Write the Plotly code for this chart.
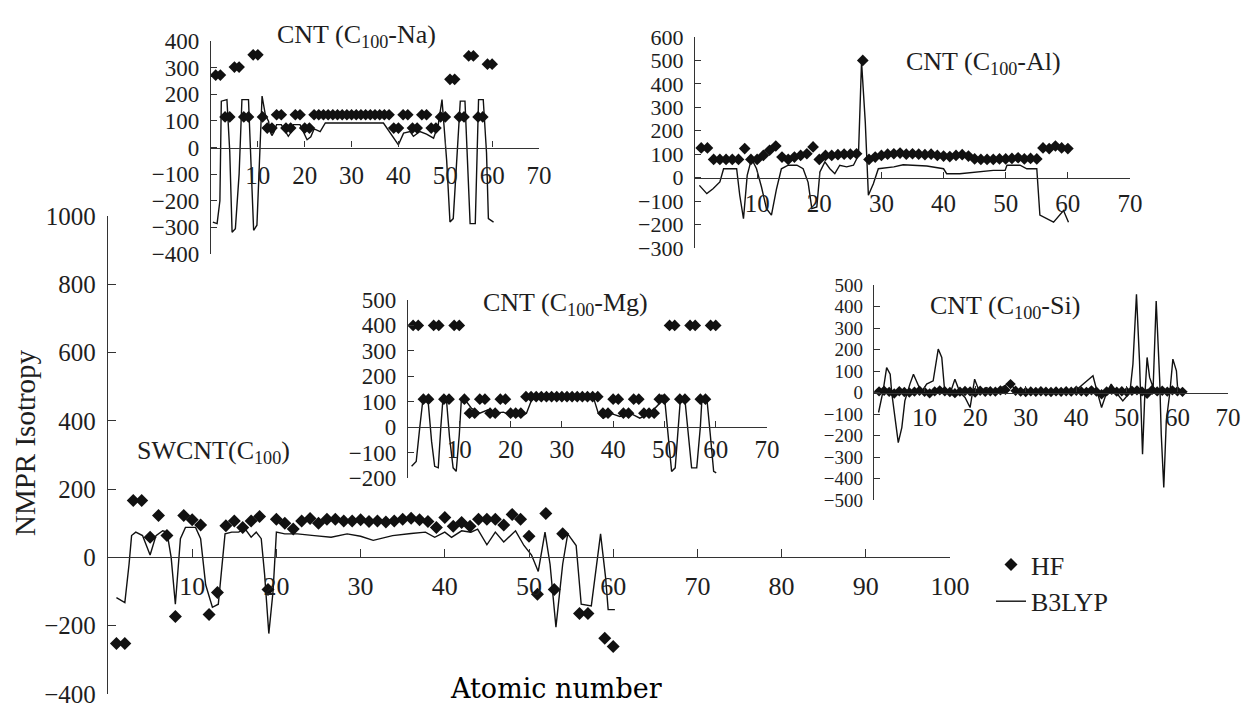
import plotly.graph_objects as go

W, H = 1247, 707
FONT = "Liberation Serif"
INK = "#1e1e1e"

# ---------------- data ----------------
# Main panel: SWCNT(C100)
main_hf_atoms = [1, 2, 3, 4, 5, 6, 7, 8, 9, 10, 11, 12, 13, 14, 15, 16, 17, 18, 19, 20,
                 21, 22, 23, 24, 25, 26, 27, 28, 29, 30, 31, 32, 33, 34, 35, 36, 37, 38, 39, 40,
                 41, 42, 43, 44, 45, 46, 47, 48, 49, 50, 51, 52, 53, 54, 56, 57, 59, 60]
main_hf = [-252, -252, 167, 167, 59, 123, 64, -173, 123, 110, 95, -167, -103, 93, 107, 88, 107, 120, -94, 112,
           100, 83, 107, 114, 100, 112, 112, 107, 107, 110, 105, 107, 104, 107, 112, 115, 110, 105, 88, 117,
           91, 102, 91, 112, 112, 112, 95, 126, 112, 62, -108, 129, -94, 69, -164, -164, -237, -261]
main_b3_atoms = [1.0, 2.0, 2.5, 2.8, 3.3, 4.1, 5.0, 5.7, 6.5, 7.0, 7.5, 8.0, 8.6, 9.2, 10.4, 11.0, 11.6, 12.4,
                 13.1, 13.5, 13.9, 14.7, 15.5, 16.3, 17.0, 17.6, 18.2, 18.6, 19.1, 19.6, 20.0, 21.0, 22.5,
                 24.5, 26.5, 28.4, 30.0, 31.5, 33.8, 36.0, 37.7, 38.8, 40.0, 40.8, 42.0, 43.1, 43.9, 45.0,
                 46.0, 47.0, 48.4, 49.4, 50.3, 51.1, 51.9, 52.5, 53.2, 54.0, 54.6, 55.6, 56.2, 57.4, 58.0,
                 58.5, 59.1, 59.4, 60.2]
main_b3 = [-118, -132, -20, 64, 74, 64, 7, 64, 78, 74, 0, -137, 55, 88, 88, 55, -80, -146,
           -137, -30, 69, 74, 74, 83, 59, 74, 55, -50, -223, -100, 74, 69, 69,
           64, 59, 69, 62, 50, 64, 70, 74, 59, 74, 59, 78, 74, 83, 37,
           74, 45, 78, 35, 7, -41, 74, -20, -204, -20, 69, 35, -137, -142, -22,
           69, -60, -153, -153]

# CNT (C100-Na)
na_hf_atoms = list(range(1, 61))
na_hf = [272, 272, 115, 115, 302, 302, 115, 115, 348, 348, 115, 73, 73, 123, 123, 73, 73, 123, 123, 73,
         73, 123, 123, 123, 123, 123, 123, 123, 123, 123, 123, 123, 123, 123, 123, 123, 123, 123, 73, 73,
         123, 123, 73, 73, 123, 123, 73, 73, 115, 115, 256, 256, 115, 115, 344, 344, 115, 115, 313, 313]
na_b3_atoms = [0.4, 1.3, 1.9, 2.2, 3.4, 4.0, 4.5, 5.2, 6.0, 6.6, 8.0, 8.4, 9.1, 9.8, 10.5, 10.9, 11.6,
               12.3, 12.6, 13.0, 13.5, 14.0, 15.0, 15.8, 16.5, 17.2, 17.6, 19.0, 19.8, 20.5, 21.3, 22.0,
               23.3, 24.4, 36.8, 38.2, 39.0, 40.0, 41.1, 42.5, 43.2, 44.6, 46.0, 47.5, 48.5, 49.3, 50.3,
               51.0, 51.7, 52.5, 53.2, 54.2, 54.9, 55.3, 56.4, 57.1, 58.1, 58.8, 59.2, 60.3]
na_b3 = [-280, -286, -200, 174, 180, -15, -318, -305, -100, 180, 180, -20, -311, -292, -20, 193, 123,
         98, 60, 45, 60, 86, 86, 60, 42, 60, 86, 86, 55, 29, 40, 70,
         60, 92, 92, 54, 35, 10, 54, 60, 42, 60, 50, 35, 86, 180, -50,
         -280, -267, -20, 174, 174, -100, -286, -286, 180, 180, -20, -267, -280]

# CNT (C100-Al)
al_hf_atoms = list(range(1, 61))
al_hf = [127, 127, 78, 78, 78, 78, 78, 124, 78, 78, 95, 117, 135, 88, 78, 88, 95, 102, 131, 78,
         95, 95, 98, 100, 100, 102, 500, 78, 88, 95, 100, 102, 105, 100, 102, 100, 98, 100, 95, 92,
         90, 95, 98, 92, 80, 78, 78, 78, 80, 80, 82, 85, 80, 82, 80, 127, 124, 135, 127, 124]
al_b3_atoms = [0.7, 1.9, 2.9, 4.0, 4.6, 6.7, 7.2, 7.8, 8.4, 9.1, 9.9, 10.7, 11.5, 12.3, 13.1, 13.9,
               15.0, 16.4, 17.4, 18.2, 18.8, 19.6, 20.1, 20.9, 21.7, 22.5, 23.3, 24.4, 25.5, 26.3,
               26.8, 27.4, 27.9, 28.7, 29.5, 32.0, 33.5, 37.3, 40.0, 40.5, 42.6, 45.3, 48.0, 49.9,
               50.2, 52.3, 53.4, 55.0, 55.3, 55.5, 57.7, 58.7, 59.3, 60.1]
al_b3 = [-33, -68, -47, -18, 38, 38, -75, -175, 10, 81, 38, -40, -132, -160, -50, 38,
         53, 53, 38, -20, -132, -125, 24, 67, 38, 17, 53, 46, 53, 95,
         494, 238, -75, -26, 38, 46, 55, 50, 38, 17, 17, 24, 31, 31,
         53, 53, 38, 38, -75, -160, -190, -160, -140, -190]

# CNT (C100-Mg)
mg_hf_atoms = list(range(1, 61))
mg_hf = [400, 400, 110, 110, 400, 400, 110, 110, 400, 400, 110, 55, 55, 110, 110, 55, 55, 110, 110, 55,
         55, 55, 120, 120, 120, 120, 120, 120, 120, 120, 120, 120, 120, 120, 120, 120, 120, 55, 55, 110,
         110, 55, 55, 110, 110, 55, 55, 55, 110, 110, 400, 400, 110, 110, 400, 400, 110, 110, 400, 400]
mg_b3_atoms = [0.7, 1.6, 2.3, 2.9, 3.9, 4.6, 5.2, 5.9, 6.4, 6.8, 7.5, 8.1, 8.8, 9.4, 10.0, 10.4, 11.4,
               12.4, 14.0, 15.6, 16.9, 18.6, 19.9, 20.8, 22.1, 23.1, 24.1, 25.1, 36.1, 37.1, 38.1,
               39.4, 41.3, 43.3, 45.2, 47.2, 48.8, 49.5, 50.1, 50.8, 51.4, 52.1, 52.7, 53.1, 54.0,
               54.7, 55.3, 56.3, 57.0, 57.3, 58.3, 58.9, 59.6, 60.1]
mg_b3 = [-154, -135, 0, 107, 107, -56, -154, -160, 0, 107, 107, -40, -160, -174, -30, 107, 100,
         74, 55, 68, 55, 59, 48, 55, 42, 55, 107, 120, 120, 55, 35,
         55, 42, 55, 35, 55, 88, 127, 100, -56, -174, -160, 0, 107, 107,
         -50, -160, -160, 0, 107, 107, -20, -174, -180]

# CNT (C100-Si)
si_hf_atoms = list(range(1, 62))
si_hf = [5, 8, 3, -5, 6, 2, 0, 4, 8, 3, -4, 5, 10, 6, 2, -3, 4, 7, 5, 0,
         8, 3, 6, 4, 10, 12, 39, 8, 4, 2, 5, 3, 6, 4, 2, 5, 3, 6, 4, 8,
         5, 3, 10, 4, -8, 5, 12, 4, 6, 2, 8, 10, 5, -6, 12, 5, 8, 4, 10, 6, 3]
si_b3_atoms = [0.9, 1.8, 2.5, 3.2, 3.5, 4.1, 4.8, 5.5, 6.1, 7.1, 7.8, 8.8, 9.4, 10.4, 11.7, 12.7,
               13.4, 14.0, 15.0, 16.0, 17.0, 18.0, 19.0, 19.9, 20.9, 22.3, 23.6, 26.9, 28.2, 39.4,
               43.3, 44.0, 45.0, 46.0, 46.9, 47.9, 49.2, 50.6, 51.2, 51.9, 52.5, 53.1, 53.5, 54.0,
               54.5, 55.2, 55.8, 56.5, 56.8, 57.3, 57.8, 58.5, 59.1, 59.8, 60.1, 61.0]
si_b3 = [-93, 8, 116, 85, 0, -101, -233, -163, -39, 39, 85, 31, 0, 39, 54, 202,
         163, 0, -8, 62, 0, -23, -70, 62, 0, 23, 0, 47, 0, 0,
         78, 15, -70, 0, 39, 0, -39, 0, 132, 457, 147, -287, -39, 163,
         70, 23, 426, 54, -194, -442, -132, 0, 155, 101, 0, 0]

# ---------------- layout of panels (pixel frames) ----------------
panels = [
    dict(k="", xl=108, xr=950, xrng=[0, 100], yt=216, yb=694, yrng=[-400, 1000], ystep=200, xmax=100,
         title="SWCNT(C<sub>100</sub>)", tx=213, ty=452, yfs=25, xfs=26, tl=8, xstand=5, ystand=6),
    dict(k="2", xl=211, xr=539, xrng=[0, 70], yt=41, yb=254, yrng=[-400, 400], ystep=100, xmax=70,
         title="CNT (C<sub>100</sub>-Na)", tx=356, ty=36, yfs=23, xfs=25, tl=6, xstand=5, ystand=6),
    dict(k="3", xl=695, xr=1130, xrng=[0, 70], yt=37, yb=248, yrng=[-300, 600], ystep=100, xmax=70,
         title="CNT (C<sub>100</sub>-Al)", tx=983, ty=63, yfs=22, xfs=25, tl=6, xstand=3, ystand=6),
    dict(k="4", xl=408, xr=767, xrng=[0, 70], yt=300, yb=478, yrng=[-200, 500], ystep=100, xmax=70,
         title="CNT (C<sub>100</sub>-Mg)", tx=565, ty=304, yfs=23, xfs=25, tl=6, xstand=0, ystand=6),
    dict(k="5", xl=874, xr=1228, xrng=[0, 70], yt=285, yb=500, yrng=[-500, 500], ystep=100, xmax=70,
         title="CNT (C<sub>100</sub>-Si)", tx=1005, ty=307, yfs=19, xfs=25, tl=6, xstand=2, ystand=6),
]

series = {
    "": (main_hf_atoms, main_hf, main_b3_atoms, main_b3, 10),
    "2": (na_hf_atoms, na_hf, na_b3_atoms, na_b3, 9),
    "3": (al_hf_atoms, al_hf, al_b3_atoms, al_b3, 9),
    "4": (mg_hf_atoms, mg_hf, mg_b3_atoms, mg_b3, 9),
    "5": (si_hf_atoms, si_hf, si_b3_atoms, si_b3, 8),
}

fig = go.Figure()
layout = dict(
    width=W, height=H, margin=dict(l=0, r=0, t=0, b=0, autoexpand=False),
    paper_bgcolor="white", plot_bgcolor="rgba(0,0,0,0)",
    font=dict(family=FONT, color=INK),
    showlegend=True,
    legend=dict(x=991 / W, y=1 - 541 / H, xanchor="left", yanchor="top",
                font=dict(family=FONT, size=26, color=INK),
                bgcolor="rgba(0,0,0,0)", itemwidth=30, tracegroupgap=0),
)
annotations = []

for p in panels:
    k = p["k"]
    hx, hy, bx, by, ms = series[k]
    xa = "x" + k
    ya = "y" + k
    fig.add_trace(go.Scatter(x=bx, y=by, mode="lines", name="B3LYP",
                             line=dict(color="#111", width=1.4),
                             xaxis=xa, yaxis=ya, showlegend=(k == ""), legendrank=2))
    fig.add_trace(go.Scatter(x=hx, y=hy, mode="markers", name="HF",
                             marker=dict(symbol="diamond", size=ms, color="#111"),
                             xaxis=xa, yaxis=ya, showlegend=(k == ""), legendrank=1))
    y0 = p["yt"] + (p["yrng"][1] - 0) / (p["yrng"][1] - p["yrng"][0]) * (p["yb"] - p["yt"])
    layout["xaxis" + k] = dict(
        domain=[p["xl"] / W, p["xr"] / W], range=p["xrng"], anchor="free", position=1 - y0 / H,
        showline=True, linecolor="#333", linewidth=1.3, mirror=False, automargin=False,
        ticks="inside", ticklen=p["tl"], tickwidth=1.2, tickcolor="#333",
        tickvals=list(range(10, p["xmax"] + 1, 10)),
        tickfont=dict(family=FONT, size=p["xfs"], color=INK),
        ticklabelstandoff=p["xstand"], ticklabeloverflow="allow",
        showgrid=False, zeroline=False,
    )
    layout["yaxis" + k] = dict(
        domain=[1 - p["yb"] / H, 1 - p["yt"] / H], range=p["yrng"], anchor=xa, automargin=False,
        showline=True, linecolor="#333", linewidth=1.3,
        ticks="inside", ticklen=p["tl"], tickwidth=1.2, tickcolor="#333",
        tickvals=list(range(p["yrng"][0], p["yrng"][1] + 1, p["ystep"])),
        tickfont=dict(family=FONT, size=p["yfs"], color=INK),
        ticklabelstandoff=p["ystand"], ticklabeloverflow="allow",
        showgrid=False, zeroline=False,
    )
    annotations.append(dict(text=p["title"], x=p["tx"] / W, y=1 - p["ty"] / H,
                            xref="paper", yref="paper", showarrow=False,
                            xanchor="center", yanchor="middle",
                            font=dict(family=FONT, size=26, color=INK)))

annotations.append(dict(text="NMPR Isotropy", x=25 / W, y=1 - 443 / H, xref="paper", yref="paper",
                        showarrow=False, textangle=-90, xanchor="center", yanchor="middle",
                        font=dict(family=FONT, size=29, color=INK)))
annotations.append(dict(text="Atomic number", x=556 / W, y=1 - 688 / H, xref="paper", yref="paper",
                        showarrow=False, xanchor="center", yanchor="middle",
                        font=dict(family="DejaVu Serif", size=27, color="#000")))
layout["annotations"] = annotations
fig.update_layout(**layout)
fig.write_html("out.html")
